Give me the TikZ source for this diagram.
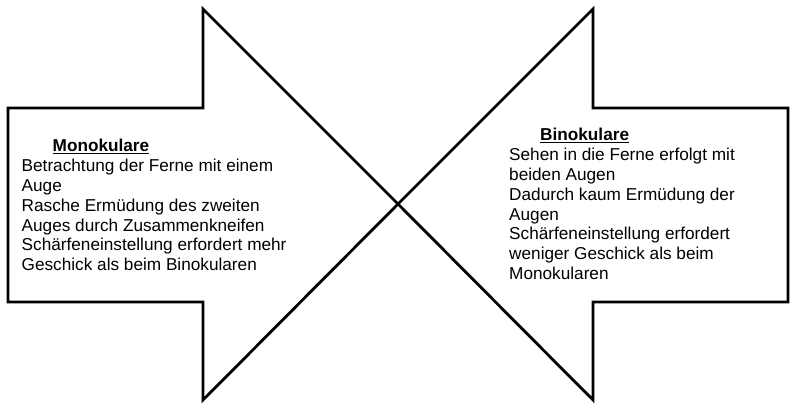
\documentclass[tikz,border=0pt]{standalone}
\usepackage{fontspec}
\setmainfont{Liberation Sans}
\begin{document}
\begin{tikzpicture}[x=1pt,y=-1pt,
  arrowshape/.style={draw=black,line width=2.8pt,fill=white,line join=miter},
  txt/.style={anchor=north west,inner sep=0pt,align=left,font=\fontsize{17.2}{19.8}\selectfont}]
\useasboundingbox (0,0) rectangle (800,414);
\fill[white] (0,0) rectangle (800,414);
% coordinates
\coordinate (tip) at (398,204);
\draw[arrowshape] (8,108) -- (203,108) -- (203,9) -- (tip) -- (203,400) -- (203,302) -- (8,302) -- cycle;
\draw[arrowshape] (788,108) -- (593,108) -- (593,9) -- (tip) -- (593,400) -- (593,302) -- (788,302) -- cycle;
\node[txt] (mono) at (21.5,139.2) {\hspace*{31pt}\textbf{\underline{Monokulare}}\\
Betrachtung der Ferne mit einem\\
Auge\\
Rasche Ermüdung des zweiten\\
Auges durch Zusammenkneifen\\
Schärfeneinstellung erfordert mehr\\
Geschick als beim Binokularen};
\node[txt] (bino) at (509,128.2) {\hspace*{31pt}\textbf{\underline{Binokulare}}\\
Sehen in die Ferne erfolgt mit\\
beiden Augen\\
Dadurch kaum Ermüdung der\\
Augen\\
Schärfeneinstellung erfordert\\
weniger Geschick als beim\\
Monokularen};
\end{tikzpicture}
\end{document}
